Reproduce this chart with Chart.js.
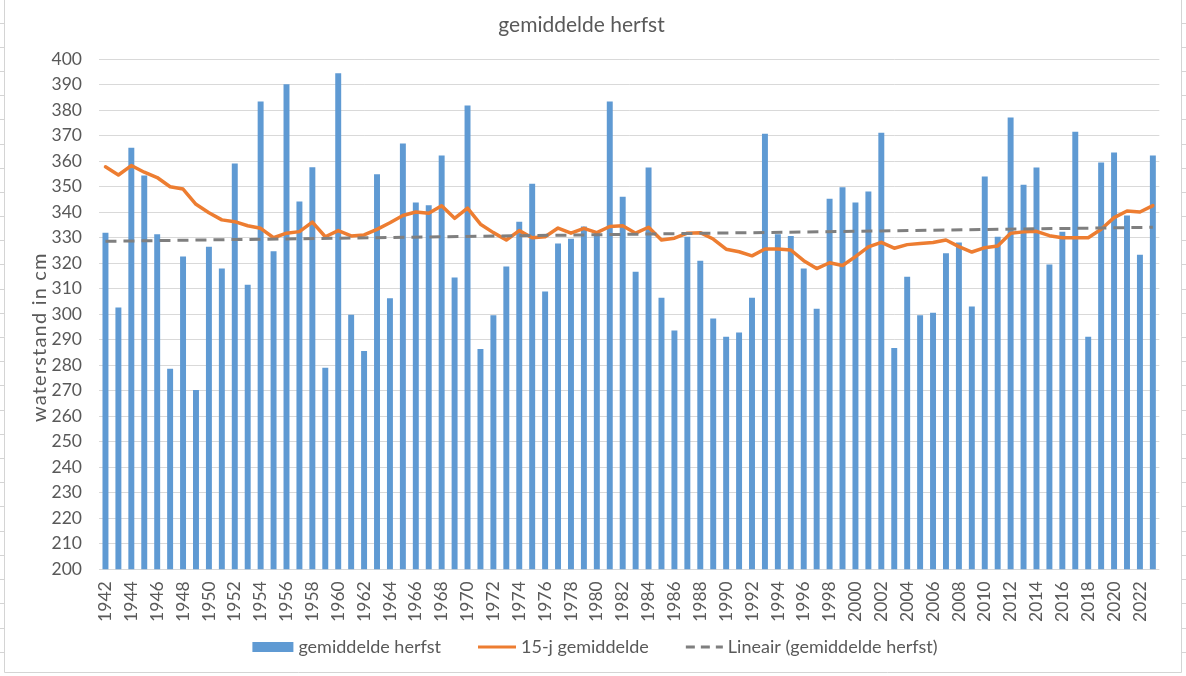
<!DOCTYPE html>
<html>
<head>
<meta charset="utf-8">
<script src="https://cdn.jsdelivr.net/npm/chart.js@4.4.0/dist/chart.umd.min.js"></script>
<style>
  html, body { margin: 0; padding: 0; background: #ffffff; }
  #wrap { width: 1186px; height: 676px; position: relative; }
  canvas { display: block; }
</style>
</head>
<body>
<div id="wrap"><canvas id="c" width="1186" height="676"></canvas></div>
<script>
// ---- data ----
const years = [
  '1942','1943','1944','1945','1946','1947','1948','1949','1950','1951',
  '1952','1953','1954','1955','1956','1957','1958','1959','1960','1961',
  '1962','1963','1964','1965','1966','1967','1968','1969','1970','1971',
  '1972','1973','1974','1975','1976','1977','1978','1979','1980','1981',
  '1982','1983','1984','1985','1986','1987','1988','1989','1990','1991',
  '1992','1993','1994','1995','1996','1997','1998','1999','2000','2001',
  '2002','2003','2004','2005','2006','2007','2008','2009','2010','2011',
  '2012','2013','2014','2015','2016','2017','2018','2019','2020','2021',
  '2022','2023'
];

const autumnMean = [
  332.0, 302.6, 365.3, 354.4, 331.4, 278.6, 322.6, 270.3, 326.5, 317.9,
  359.1, 311.6, 383.4, 324.7, 390.2, 344.2, 357.6, 279.0, 394.5, 299.8,
  285.6, 354.9, 306.3, 366.9, 343.8, 342.7, 362.2, 314.4, 381.8, 286.4,
  299.6, 318.7, 336.3, 351.2, 308.9, 327.7, 329.6, 334.4, 331.8, 383.4,
  346.1, 316.7, 357.5, 306.5, 293.6, 330.4, 321.0, 298.3, 291.2, 292.8,
  306.5, 370.8, 331.4, 330.7, 317.9, 302.2, 345.3, 349.8, 343.8, 348.1,
  371.2, 286.8, 314.7, 299.6, 300.6, 323.9, 328.1, 303.0, 354.0, 330.4,
  377.1, 350.8, 357.5, 319.5, 332.3, 371.6, 291.2, 359.5, 363.4, 338.7,
  323.3, 362.2
];

const mean15y = [
  357.8, 354.6, 358.3, 355.7, 353.6, 350.0, 349.1, 343.1, 339.8, 337.0,
  336.3, 334.7, 333.7, 330.0, 331.8, 332.4, 336.1, 330.4, 332.8, 330.7,
  331.1, 333.3, 335.9, 338.7, 340.1, 339.6, 342.5, 337.6, 341.6, 335.3,
  332.0, 329.1, 332.8, 330.0, 330.4, 333.8, 331.8, 333.7, 332.0, 334.4,
  334.7, 331.8, 334.1, 329.1, 329.8, 331.8, 332.0, 329.5, 325.5, 324.5,
  322.9, 325.6, 325.6, 325.2, 321.0, 317.9, 320.2, 319.1, 322.6, 326.4,
  328.2, 325.9, 327.3, 327.7, 328.1, 329.1, 326.5, 324.4, 326.1, 326.8,
  331.8, 332.3, 332.5, 330.8, 330.0, 330.0, 330.0, 333.3, 337.9, 340.5,
  340.1, 342.6
];

// linear trend line: values read at first and last year
const trendStart = 328.6;
const trendEnd = 334.1;

const yTicksMin = 200;
const yTicksMax = 400;
const yTickStep = 10;

const titleText = 'gemiddelde herfst';
const yAxisTitle = 'waterstand in cm';
const labelBars = 'gemiddelde herfst';
const labelMean = '15-j gemiddelde';
const labelTrend = 'Lineair (gemiddelde herfst)';

// ---- styles ----
const BAR = '#5F9AD3';
const ORANGE = '#ED7D31';
const GRAY = '#7F7F7F';
const TEXT = '#595959';
const GRID = '#D9D9D9';
const FONT = "Lato, 'Liberation Sans', sans-serif";

const trendData = years.map((y, i) => i === 0 ? trendStart : (i === years.length - 1 ? trendEnd : null));

const framePlugin = {
  id: 'frame',
  beforeDraw(chart) {
    const ctx = chart.ctx;
    ctx.save();
    ctx.fillStyle = '#ffffff';
    ctx.fillRect(0, 0, chart.width, chart.height);
    ctx.strokeStyle = '#D4D4D4';
    ctx.lineWidth = 1;
    for (let y = 22.5; y < 672; y += 24.2) {
      const yy = Math.round(y) + 0.5;
      ctx.beginPath(); ctx.moveTo(0, yy); ctx.lineTo(4, yy); ctx.stroke();
      ctx.beginPath(); ctx.moveTo(1182, yy); ctx.lineTo(1186, yy); ctx.stroke();
    }
    ctx.beginPath();
    ctx.moveTo(4.5, 0); ctx.lineTo(4.5, 672.5);
    ctx.lineTo(1181.5, 672.5); ctx.lineTo(1181.5, 0);
    ctx.stroke();
    ctx.restore();
  }
};

// y axis title (placed as in the reference, slightly below the axis centre)
const yTitlePlugin = {
  id: 'yTitle',
  afterDraw(chart) {
    const ctx = chart.ctx;
    const a = chart.chartArea;
    ctx.save();
    ctx.translate(40, a.top + (a.bottom - a.top) * 0.545);
    ctx.rotate(-Math.PI / 2);
    ctx.font = '20px ' + FONT;
    if ('letterSpacing' in ctx) ctx.letterSpacing = '1.2px';
    ctx.fillStyle = TEXT;
    ctx.textAlign = 'center';
    ctx.textBaseline = 'middle';
    ctx.fillText(yAxisTitle, 0, 0);
    ctx.restore();
  }
};

// legend drawn below the axis labels
const legendPlugin = {
  id: 'bottomLegend',
  afterDraw(chart) {
    const ctx = chart.ctx;
    const items = [
      { text: labelBars, kind: 'box', color: BAR, w: 41 },
      { text: labelMean, kind: 'line', color: ORANGE, w: 38, dash: [] },
      { text: labelTrend, kind: 'line', color: GRAY, w: 37, dash: [9, 6] }
    ];
    const gapText = 5, gapItem = 37, cy = 647;
    ctx.save();
    ctx.font = '18px ' + FONT;
    let total = 0;
    items.forEach((it, i) => {
      it.tw = ctx.measureText(it.text).width;
      total += it.w + gapText + it.tw + (i ? gapItem : 0);
    });
    let x = (chart.width - total) / 2 + 2;
    items.forEach((it) => {
      if (it.kind === 'box') {
        ctx.fillStyle = it.color;
        ctx.fillRect(x, cy - 5, it.w, 10);
      } else {
        ctx.strokeStyle = it.color;
        ctx.lineWidth = 3;
        ctx.setLineDash(it.dash);
        ctx.beginPath();
        ctx.moveTo(x, cy);
        ctx.lineTo(x + it.w, cy);
        ctx.stroke();
        ctx.setLineDash([]);
      }
      ctx.fillStyle = TEXT;
      ctx.textAlign = 'left';
      ctx.textBaseline = 'middle';
      ctx.fillText(it.text, x + it.w + gapText, cy);
      x += it.w + gapText + it.tw + gapItem;
    });
    ctx.restore();
  }
};

Chart.defaults.font.family = FONT;
Chart.defaults.color = TEXT;

new Chart(document.getElementById('c'), {
  data: {
    labels: years,
    datasets: [
      {
        type: 'line',
        label: labelTrend,
        data: trendData,
        spanGaps: true,
        borderColor: GRAY,
        borderWidth: 3,
        borderDash: [11, 7],
        pointRadius: 0,
        fill: false,
        order: 1
      },
      {
        type: 'line',
        label: labelMean,
        data: mean15y,
        borderColor: ORANGE,
        borderWidth: 3.5,
        borderJoinStyle: 'round',
        borderCapStyle: 'round',
        pointRadius: 0,
        tension: 0,
        fill: false,
        order: 2
      },
      {
        type: 'bar',
        label: labelBars,
        data: autumnMean,
        backgroundColor: BAR,
        borderWidth: 0,
        barPercentage: 0.46,
        categoryPercentage: 1.0,
        order: 3
      }
    ]
  },
  options: {
    responsive: false,
    devicePixelRatio: 1,
    animation: false,
    layout: { padding: { left: 0, right: 23, top: 0, bottom: 54.7 } },
    plugins: {
      title: {
        display: true,
        text: titleText,
        color: TEXT,
        font: { size: 21, weight: 'normal', family: FONT },
        padding: { top: 13, bottom: 21 }
      },
      legend: { display: false },
      tooltip: { enabled: false }
    },
    scales: {
      x: {
        type: 'category',
        offset: true,
        grid: { display: false, drawTicks: false },
        border: { display: false },
        ticks: {
          autoSkip: false,
          minRotation: 90,
          maxRotation: 90,
          padding: 12,
          color: TEXT,
          font: { size: 17.5, family: FONT },
          callback: (v, i) => (i % 2 === 0 ? years[i] : '')
        },
        afterFit: (s) => { s.height = 52; }
      },
      y: {
        min: yTicksMin,
        max: yTicksMax,
        grid: { color: GRID, lineWidth: 1, drawTicks: false },
        border: { display: false },
        ticks: {
          stepSize: yTickStep,
          padding: 17,
          color: TEXT,
          font: { size: 17.5, family: FONT }
        },
        afterFit: (s) => { s.width = 99; }
      }
    }
  },
  plugins: [framePlugin, yTitlePlugin, legendPlugin]
});
</script>
</body>
</html>
